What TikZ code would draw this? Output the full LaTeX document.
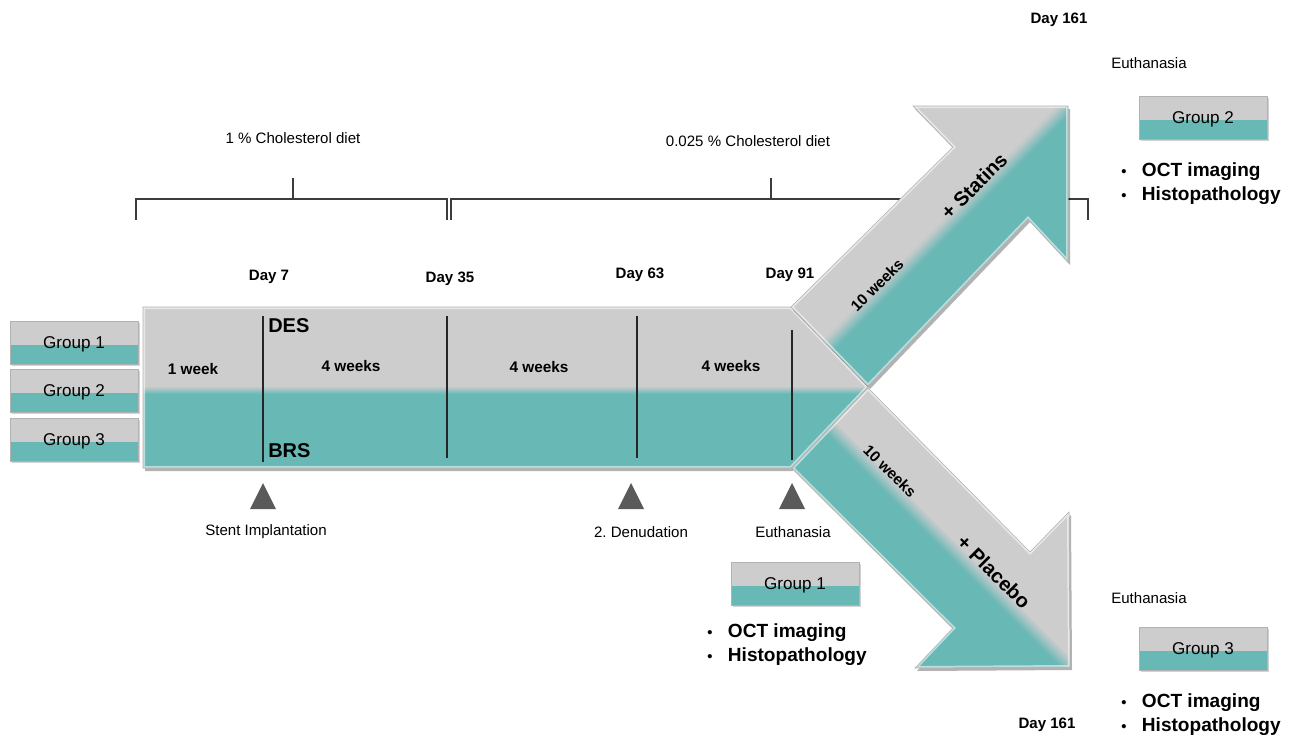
\documentclass[tikz,border=0pt]{standalone}
\usepackage{fontspec}
\setmainfont{Liberation Sans}
\usetikzlibrary{calc,shadows}
\definecolor{grayc}{RGB}{205,205,205}
\definecolor{tealc}{RGB}{104,184,182}
\definecolor{markc}{RGB}{90,90,90}
\definecolor{linec}{RGB}{60,60,60}
\def\barpath{(143,307) -- (791,307) -- (868,387) -- (791,468) -- (143,468) -- cycle}
\def\uparr{(791,307) -- (953,147) -- (913,106) -- (1068,106) -- (1068,262) -- (1028,219) -- (868,386) -- cycle}
\def\dnarr{(868,388) -- (1030,552) -- (1069,512) -- (1070,667) -- (915,668) -- (953,628) -- (792,468) -- cycle}
\frenchspacing
\begin{document}
\begin{tikzpicture}[x=0.75pt,y=-0.75pt,
  grp/.style={minimum width=96pt, minimum height=32pt, inner sep=0pt, text depth=0pt, fill=grayc, draw=gray!60,
    line width=0.5pt, font=\fontsize{12.8}{14}\selectfont,
    drop shadow={shadow xshift=1.2pt, shadow yshift=-1.2pt, opacity=0.35},
    path picture={\fill[tealc] ($(path picture bounding box.south west)!0.45!(path picture bounding box.north west)$) rectangle (path picture bounding box.south east);
      \draw[white,opacity=0.6,line width=1.2pt] (path picture bounding box.south west) |- (path picture bounding box.north east);}},
  lbl/.style={font=\fontsize{11.3}{13}\selectfont, inner sep=0pt},
  day/.style={font=\bfseries\fontsize{11.3}{13}\selectfont, inner sep=0pt},
  wk/.style={font=\bfseries\fontsize{11.5}{13}\selectfont, inner sep=0pt},
  big/.style={font=\bfseries\fontsize{15}{17}\selectfont, inner sep=0pt},
  bul/.style={font=\bfseries\fontsize{14.3}{16}\selectfont, anchor=west, inner sep=0pt},
  brk/.style={draw=linec, line width=0.9pt},
  divl/.style={draw=black!85, line width=0.9pt},
  markfill/.style={fill=markc},
  bevel/.style={white,opacity=0.55,line width=3pt},
  edge/.style={gray!60,line width=0.4pt},
  shadowfill/.style={black,opacity=0.3}
]
\useasboundingbox (0,0) rectangle (1300,740);

% brackets
\draw[brk] (136,220) -- (136,199) -- (447,199) -- (447,220);
\draw[brk] (293,178) -- (293,199);
\draw[brk] (451,220) -- (451,199) -- (1088,199) -- (1088,220);
\draw[brk] (771,178) -- (771,199);

% main bar
\fill[shadowfill] [shift={(2,3)}] \barpath;
\begin{scope}
  \clip \barpath;
  \fill[grayc] (140,300) rectangle (900,475);
  \fill[tealc] (140,390) rectangle (900,475);
  \foreach \i in {0,...,7}{
    \pgfmathsetmacro\pc{100-\i*12.5}
    \fill[grayc!\pc!tealc] (140,386+\i) rectangle (900,387.2+\i);
  }
  \draw[bevel] \barpath;
\end{scope}
\draw[edge] \barpath;

% upper arrow (axis x+y=1174)
\fill[shadowfill] [shift={(2,3)}] \uparr;
\begin{scope}
  \clip \uparr;
  \fill[tealc] (760,90) rectangle (1090,400);
  \fill[grayc] (760,90) -- (1174-10-90,90) -- (1174-10-400,400) -- (760,400) -- cycle;
  \foreach \i in {0,...,19}{
    \pgfmathsetmacro\pc{100-\i*5}
    \pgfmathsetmacro\ka{1174-10+\i}
    \pgfmathsetmacro\kb{1174-10+\i+1.4}
    \fill[grayc!\pc!tealc] (\ka-90,90) -- (\ka-400,400) -- (\kb-400,400) -- (\kb-90,90) -- cycle;
  }
  \draw[bevel] \uparr;
\end{scope}
\draw[edge] \uparr;

% lower arrow (axis x-y=402)
\fill[shadowfill] [shift={(2,3)}] \dnarr;
\begin{scope}
  \clip \dnarr;
  \fill[tealc] (780,380) rectangle (1090,690);
  \fill[grayc] (402+10+370,370) -- (1100,370) -- (1100,690) -- (402+10+690,690) -- cycle;
  \foreach \i in {0,...,19}{
    \pgfmathsetmacro\pc{\i*5}
    \pgfmathsetmacro\ka{402-10+\i}
    \pgfmathsetmacro\kb{402-10+\i+1.4}
    \fill[grayc!\pc!tealc] (\ka+370,370) -- (\ka+690,690) -- (\kb+690,690) -- (\kb+370,370) -- cycle;
  }
  \draw[bevel] \dnarr;
\end{scope}
\draw[edge] \dnarr;

% dividers
\draw[divl] (263,316) -- (263,462);
\draw[divl] (447,316) -- (447,458);
\draw[divl] (637,316) -- (637,458);
\draw[divl] (792,330) -- (792,460);

% texts in bar
\node[big,anchor=west] (des) at (268,326) {DES};
\node[big,anchor=west] (brs) at (268,451) {BRS};
\node[wk] (w1) at (193,369) {1 week};
\node[wk] (w2) at (351,366) {4 weeks};
\node[wk] (w3) at (539,367) {4 weeks};
\node[wk] (w4) at (731,366) {4 weeks};

% arrow labels
\node[wk,rotate=45] (aw1) at (877,285) {10 weeks};
\node[big,rotate=45] (stat) at (974,186) {+ Statins};
\node[wk,rotate=-45] (aw2) at (890,471) {10 weeks};
\node[big,rotate=-45] (plac) at (994,572) {+ Placebo};

% diets and days
\node[lbl] (d1) at (293,138) {1 \% Cholesterol diet};
\node[lbl] (d2) at (748,141) {0.025 \% Cholesterol diet};
\node[day] (day7) at (269,277) {Day 7};
\node[day] (day35) at (450,279) {Day 35};
\node[day] (day63) at (640,275) {Day 63};
\node[day] (day91) at (790,275) {Day 91};
\node[day] (day161a) at (1059,20) {Day 161};
\node[day] (day161b) at (1047,725) {Day 161};
\node[lbl] (eu1) at (1149,63) {Euthanasia};
\node[lbl] (eu2) at (1149,598) {Euthanasia};

% markers
\fill[markfill] (263,483) -- (276,509) -- (250,509) -- cycle;
\fill[markfill] (631,483) -- (644,509) -- (618,509) -- cycle;
\fill[markfill] (792,483) -- (805,509) -- (779,509) -- cycle;
\node[lbl] (stent) at (266,532) {Stent Implantation};
\node[lbl] (denud) at (641,532) {2. Denudation};
\node[lbl] (eu0) at (793,532) {Euthanasia};

% group boxes
\node[grp] (g1) at (74,343) {Group 1};
\node[grp] (g2) at (74,391) {Group 2};
\node[grp] (g3) at (74,440) {Group 3};
\node[grp] (g1r) at (795,584) {Group 1};
\node[grp] (g2r) at (1203,118) {Group 2};
\node[grp] (g3r) at (1203,649) {Group 3};

% bullet lists
\newcommand{\bitem}[1]{\makebox[15.5pt][l]{\fontsize{11}{11}\selectfont\textbullet}#1}
\node[bul] (l1a) at (707,633) {\bitem{OCT imaging}};
\node[bul] (l1b) at (707,657) {\bitem{Histopathology}};
\node[bul] (l2a) at (1121,172) {\bitem{OCT imaging}};
\node[bul] (l2b) at (1121,196) {\bitem{Histopathology}};
\node[bul] (l3a) at (1121,703) {\bitem{OCT imaging}};
\node[bul] (l3b) at (1121,727) {\bitem{Histopathology}};
\end{tikzpicture}
\end{document}
